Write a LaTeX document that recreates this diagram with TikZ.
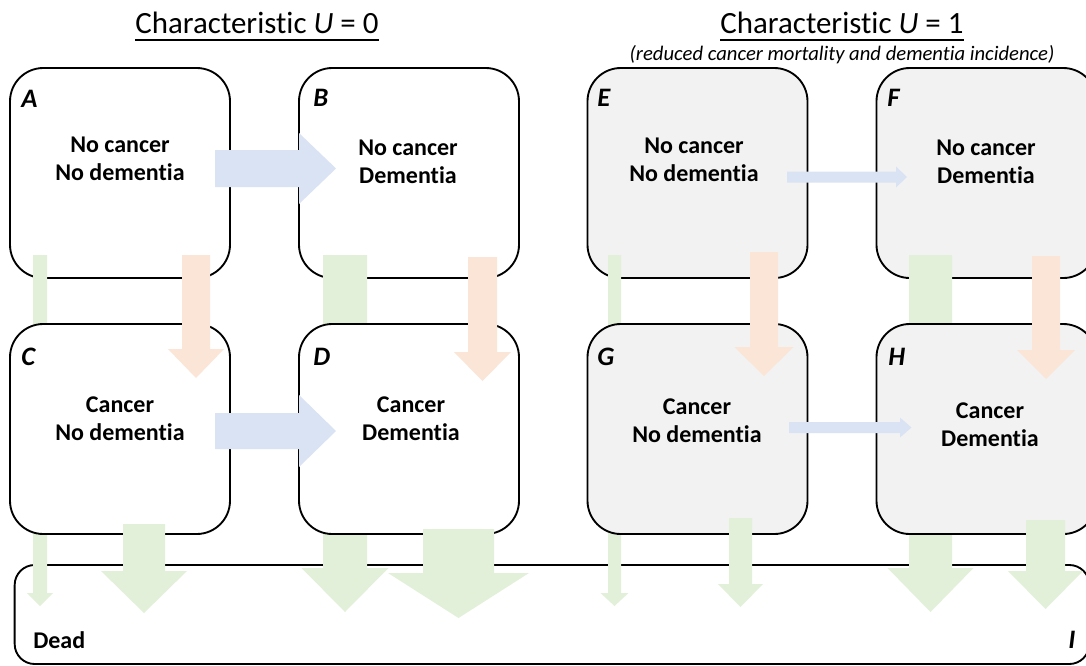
\documentclass[tikz,border=0pt]{standalone}
\usepackage{fontspec}
\setmainfont{Carlito}[Ligatures=NoCommon]
\usetikzlibrary{calc}
\definecolor{arrblue}{HTML}{DAE3F3}
\definecolor{arrorange}{HTML}{FBE5D6}
\definecolor{arrgreen}{HTML}{E2F0D9}
\definecolor{boxgray}{HTML}{F2F2F2}
% block arrow pointing down: colour, x centre, half shaft, y top, y head start, half head, y tip
\newcommand{\blkdown}[7]{\fill[#1] ({#2-#3},#4) -- ({#2+#3},#4) -- ({#2+#3},#5) -- ({#2+#6},#5) -- (#2,#7) -- ({#2-#6},#5) -- ({#2-#3},#5) -- cycle;}
% block arrow pointing right: colour, y centre, half shaft, x start, x head start, half head, x tip
\newcommand{\blkright}[7]{\fill[#1] (#4,{#2-#3}) -- (#5,{#2-#3}) -- (#5,{#2-#6}) -- (#7,#2) -- (#5,{#2+#6}) -- (#5,{#2+#3}) -- (#4,{#2+#3}) -- cycle;}
\begin{document}
\begin{tikzpicture}[x=0.75pt,y=-0.75pt,
  sbox/.style={draw=black,line width=1.4pt,rounded corners=25pt,minimum width=165pt,minimum height=157.5pt,inner sep=0pt,fill=white},
  gbox/.style={sbox,fill=boxgray},
  deadbox/.style={draw=black,line width=1.4pt,rounded corners=15pt,minimum width=806pt,minimum height=74.25pt,inner sep=0pt,fill=white},
  stxt/.style={font=\bfseries\fontsize{18}{21}\selectfont,align=center,inner sep=0pt,anchor=base},
  lett/.style={font=\bfseries\itshape\fontsize{20}{24}\selectfont,inner sep=0pt,anchor=base west},
  ttl/.style={font=\fontsize{23.2}{28}\selectfont,inner sep=0pt,anchor=base},
  subttl/.style={font=\itshape\fontsize{15.5}{18}\selectfont,inner sep=0pt,anchor=base},
  ]
\useasboundingbox (0,0) rectangle (1086,665);
\clip (0,0) rectangle (1086,665);
% titles
\node[ttl] (t0) at (257,33) {Characteristic \textit{U} = 0};
\draw[line width=1.5pt] ([yshift=-5.25pt]t0.base west) -- ([yshift=-5.25pt]t0.base east);
\node[ttl] (t1) at (842,33) {Characteristic \textit{U} = 1};
\draw[line width=1.5pt] ([yshift=-5.25pt]t1.base west) -- ([yshift=-5.25pt]t1.base east);
\node[subttl] (sub) at (842,60) {(reduced cancer mortality and dementia incidence)};
% dead box
\node[deadbox] (I) at (552,614.5) {};
% upper boxes
\node[sbox] (A) at (120,173) {};
\node[sbox] (B) at (409,173) {};
\node[gbox] (E) at (697.5,173) {};
\node[gbox] (F) at (986.5,173) {};
% long green arrows (partly hidden behind lower boxes)
\blkdown{arrgreen}{40}{7}{255}{593}{13}{606}
\blkdown{arrgreen}{345}{22}{255}{568}{43.5}{612}
\blkdown{arrgreen}{614.5}{6.5}{255}{593}{14}{606}
\blkdown{arrgreen}{930.5}{21.5}{255}{568}{43}{612}
% lower boxes
\node[sbox] (C) at (120,429) {};
\node[sbox] (D) at (409,429) {};
\node[gbox] (G) at (697.5,429) {};
\node[gbox] (H) at (986.5,429) {};
% orange arrows (cancer incidence)
\blkdown{arrorange}{196}{14}{255}{349}{28}{378}
\blkdown{arrorange}{482.5}{14.5}{257}{352}{28.5}{381}
\blkdown{arrorange}{764}{14}{252}{347}{29.5}{376}
\blkdown{arrorange}{1046}{14}{256}{350}{29}{379}
% blue arrows (dementia incidence)
\blkright{arrblue}{168.5}{18.5}{215}{299}{35.5}{336}
\blkright{arrblue}{431}{18}{215}{299}{36}{336}
\blkright{arrblue}{177}{5.5}{787}{896}{10.5}{907}
\blkright{arrblue}{427.5}{5.5}{789}{900}{10}{911.5}
% short green arrows (death from lower boxes)
\blkdown{arrgreen}{144}{21}{524}{571}{43}{613}
\blkdown{arrgreen}{458.5}{35.5}{529}{573}{70.5}{618}
\blkdown{arrgreen}{740.5}{11.5}{518}{584}{22.5}{607}
\blkdown{arrgreen}{1045.5}{19.5}{520}{571}{37.5}{609}
% box texts (anchor = baseline of last line)
\node[stxt] (At) at (120,180) {No cancer\\No dementia};
\node[stxt] (Bt) at (408,183) {No cancer\\Dementia};
\node[stxt] (Ct) at (120,440) {Cancer\\No dementia};
\node[stxt] (Dt) at (411,440) {Cancer\\Dementia};
\node[stxt] (Et) at (694,181) {No cancer\\No dementia};
\node[stxt] (Ft) at (986,183) {No cancer\\Dementia};
\node[stxt] (Gt) at (697,442) {Cancer\\No dementia};
\node[stxt] (Ht) at (990,446) {Cancer\\Dementia};
% letters
\node[lett] (La) at (21,107) {A};
\node[lett] (Lb) at (313,106) {B};
\node[lett] (Le) at (597,106) {E};
\node[lett] (Lf) at (887,106) {F};
\node[lett] (Lc) at (21,365) {C};
\node[lett] (Ld) at (313,365) {D};
\node[lett] (Lg) at (597,365) {G};
\node[lett] (Lh) at (888,365) {H};
\node[stxt,anchor=base west] (dead) at (33,648) {Dead};
\node[lett] (Li) at (1068,648) {I};
\end{tikzpicture}
\end{document}
